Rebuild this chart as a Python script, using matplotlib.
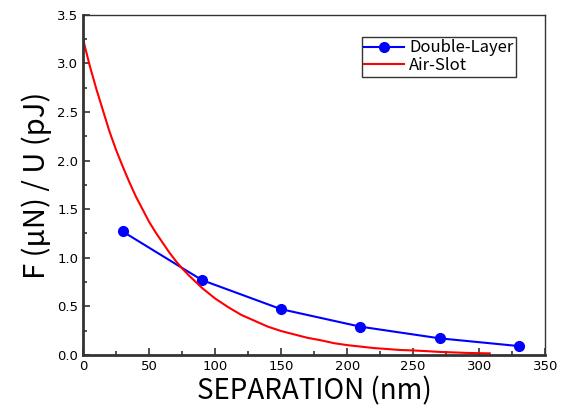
import matplotlib
matplotlib.use('Agg')
import matplotlib.pyplot as plt
from matplotlib.ticker import MultipleLocator, FormatStrFormatter

# Double-Layer measured points
sep_dl = [30, 90, 150, 210, 270, 330]
force_dl = [1.27, 0.77, 0.47, 0.29, 0.17, 0.09]

# Air-Slot curve
sep_air = [0, 5, 10, 15, 20, 25, 30, 35, 40, 45, 50, 55, 60, 65, 70, 75, 80, 90, 100,
           110, 120, 130, 140, 150, 160, 170, 180, 190, 200, 210, 220, 230, 240, 250,
           260, 270, 280, 290, 300, 308]
force_air = [3.25, 2.98, 2.74, 2.52, 2.30, 2.11, 1.94, 1.78, 1.63, 1.50, 1.37, 1.26,
             1.16, 1.06, 0.97, 0.89, 0.82, 0.69, 0.58, 0.49, 0.41, 0.35, 0.29, 0.245,
             0.21, 0.175, 0.15, 0.12, 0.10, 0.085, 0.07, 0.06, 0.05, 0.045, 0.038,
             0.03, 0.025, 0.02, 0.017, 0.015]

fig = plt.figure(figsize=(5.65, 4.15), dpi=100)
ax = fig.add_axes([0.147, 0.145, 0.818, 0.819])

ax.plot(sep_dl, force_dl, color='blue', marker='o', markersize=7, linewidth=1.5,
        label='Double-Layer')
ax.plot(sep_air, force_air, color='red', linewidth=1.5, label='Air-Slot')

ax.set_xlim(0, 350)
ax.set_ylim(0, 3.5)
ax.xaxis.set_major_locator(MultipleLocator(50))
ax.xaxis.set_minor_locator(MultipleLocator(25))
ax.yaxis.set_major_locator(MultipleLocator(0.5))
ax.yaxis.set_minor_locator(MultipleLocator(0.25))
ax.yaxis.set_major_formatter(FormatStrFormatter('%.1f'))

ax.tick_params(which='major', direction='in', length=5, width=1.2, labelsize=9.5,
               top=False, right=False, colors='#333333', labelcolor='black')
ax.tick_params(which='minor', direction='in', length=3, width=1.2,
               top=False, right=False, colors='#333333')

ax.spines['left'].set_linewidth(2)
ax.spines['bottom'].set_linewidth(2)
ax.spines['top'].set_linewidth(1)
ax.spines['right'].set_linewidth(1)
for s in ax.spines.values():
    s.set_color('#333333')

lab_font = ['Noto Sans CJK JP', 'DejaVu Sans']
ax.set_xlabel('SEPARATION (nm)', fontsize=20, family=lab_font, labelpad=3)
ax.set_ylabel('F (μN) / U (pJ)', fontsize=21, family=lab_font, labelpad=4)

leg = ax.legend(loc='upper right', bbox_to_anchor=(0.955, 0.96), fancybox=False,
                edgecolor='#333333', framealpha=1, borderpad=0.15, handlelength=2.4,
                handletextpad=0.3, labelspacing=0.05,
                prop={'family': lab_font, 'size': 12})
leg.get_frame().set_linewidth(1)

fig.savefig('out.png', dpi=100)
